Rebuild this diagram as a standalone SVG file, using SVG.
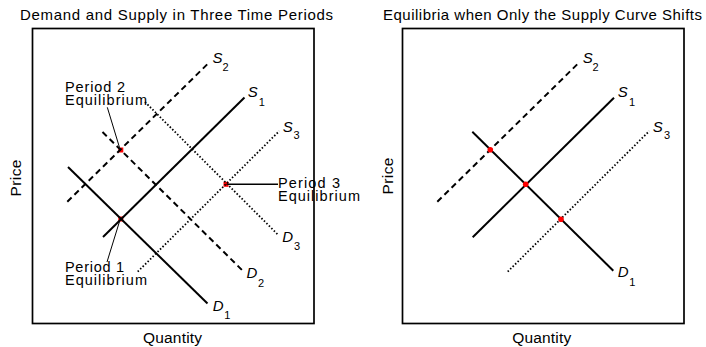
<svg xmlns="http://www.w3.org/2000/svg" width="706" height="347" viewBox="0 0 706 347">
<style>
  text { font-family: "Liberation Sans", Arial, sans-serif; fill: #000; }
  .title { font-size: 15px; }
  .lab { font-size: 14.5px; }
  .axis { font-size: 15.5px; }
  .cv { font-size: 15px; font-style: italic; }
  .sub { font-size: 11px; }
  .box { fill: none; stroke: #000; stroke-width: 1.7; }
  .solid { stroke: #000; stroke-width: 2; fill: none; }
  .dash { stroke: #000; stroke-width: 2; fill: none; stroke-dasharray: 6 4; }
  .dot { stroke: #000; stroke-width: 1.8; fill: none; stroke-dasharray: 1.5 2; }
  .lead { stroke: #000; stroke-width: 1; fill: none; }
  .eqsq { fill: #ff0000; }
  .eqc { fill: #ff0000; }
</style>
<rect width="706" height="347" fill="#fff"/>

<g id="left-panel">
  <text class="title" x="176.5" y="19.5" text-anchor="middle" textLength="313" lengthAdjust="spacing">Demand and Supply in Three Time Periods</text>
  <rect class="box" x="32.5" y="28.5" width="281.5" height="295"/>
  <text class="axis" transform="translate(20.5,178) rotate(-90)" text-anchor="middle" textLength="37" lengthAdjust="spacing">Price</text>
  <text class="axis" x="172.5" y="343" text-anchor="middle" textLength="59" lengthAdjust="spacing">Quantity</text>

  <g id="left-markers">
    <rect class="eqsq" x="118.3" y="147.5" width="5" height="5"/>
    <rect class="eqsq" x="118.3" y="216.5" width="5" height="5"/>
    <rect class="eqsq" x="223.5" y="181.8" width="5" height="5"/>
  </g>

  <g id="left-curves">
    <line id="L-S1" class="solid" x1="103" y1="237" x2="244.5" y2="97.5"/>
    <line id="L-S2" class="dash" x1="67.3" y1="201.7" x2="208.3" y2="63.3"/>
    <line id="L-S3" class="dot" x1="137.7" y1="271.7" x2="279.3" y2="131"/>
    <line id="L-D1" class="solid" x1="68" y1="167" x2="207.5" y2="303.5"/>
    <line id="L-D2" class="dash" x1="102.5" y1="132" x2="243" y2="271"/>
    <line id="L-D3" class="dot" x1="145" y1="102" x2="278.3" y2="235"/>
  </g>

  <g id="left-leaders">
    <line class="lead" x1="107.3" y1="107.3" x2="119.5" y2="147.5"/>
    <line class="lead" x1="119.5" y1="221.5" x2="107" y2="262"/>
    <line class="solid" style="stroke-width:1.5" x1="228" y1="184.3" x2="278" y2="184.3"/>
  </g>

  <g id="left-labels">
    <text class="cv" x="212.5" y="63">S</text><text class="sub" x="222.5" y="70.5">2</text>
    <text class="cv" x="247.8" y="97">S</text><text class="sub" x="258.8" y="105.5">1</text>
    <text class="cv" x="282.8" y="132">S</text><text class="sub" x="293.5" y="139">3</text>
    <text class="cv" x="282.2" y="242">D</text><text class="sub" x="294" y="250">3</text>
    <text class="cv" x="246.5" y="277.5">D</text><text class="sub" x="258" y="286.5">2</text>
    <text class="cv" x="212.8" y="310.5">D</text><text class="sub" x="224.3" y="319">1</text>
  </g>

  <g id="period2-label">
    <text class="lab"><tspan x="65" y="92" textLength="60" lengthAdjust="spacing">Period 2</tspan><tspan x="65" y="105" textLength="82" lengthAdjust="spacing">Equilibrium</tspan></text>
  </g>
  <g id="period1-label">
    <text class="lab"><tspan x="65" y="272" textLength="59" lengthAdjust="spacing">Period 1</tspan><tspan x="65" y="285" textLength="82" lengthAdjust="spacing">Equilibrium</tspan></text>
  </g>
  <g id="period3-label">
    <text class="lab"><tspan x="278" y="187.5" textLength="62" lengthAdjust="spacing">Period 3</tspan><tspan x="278" y="200.5" textLength="82" lengthAdjust="spacing">Equilibrium</tspan></text>
  </g>
</g>

<g id="right-panel">
  <text class="title" x="542.5" y="19.5" text-anchor="middle" textLength="319" lengthAdjust="spacing">Equilibria when Only the Supply Curve Shifts</text>
  <rect class="box" x="402.5" y="28.5" width="281.5" height="295"/>
  <text class="axis" transform="translate(393,176) rotate(-90)" text-anchor="middle" textLength="37" lengthAdjust="spacing">Price</text>
  <text class="axis" x="541.7" y="343" text-anchor="middle" textLength="59" lengthAdjust="spacing">Quantity</text>

  <g id="right-curves">
    <line id="R-S1" class="solid" x1="472.7" y1="237.3" x2="614" y2="97.7"/>
    <line id="R-S2" class="dash" x1="437.3" y1="201.7" x2="578.3" y2="63.3"/>
    <line id="R-S3" class="dot" x1="507.7" y1="271.7" x2="649.3" y2="131"/>
    <line id="R-D1" class="solid" x1="472.3" y1="131.7" x2="613.3" y2="270.7"/>
  </g>

  <g id="right-markers">
    <circle class="eqc" cx="490.3" cy="149.7" r="2.8"/>
    <circle class="eqc" cx="525.7" cy="184.3" r="2.8"/>
    <circle class="eqc" cx="561" cy="219.3" r="2.8"/>
  </g>

  <g id="right-labels">
    <text class="cv" x="582.8" y="63">S</text><text class="sub" x="592.5" y="70.5">2</text>
    <text class="cv" x="617.8" y="97">S</text><text class="sub" x="629" y="105.5">1</text>
    <text class="cv" x="652.8" y="132">S</text><text class="sub" x="664" y="139">3</text>
    <text class="cv" x="617.8" y="277">D</text><text class="sub" x="629.3" y="285.5">1</text>
  </g>
</g>
</svg>
